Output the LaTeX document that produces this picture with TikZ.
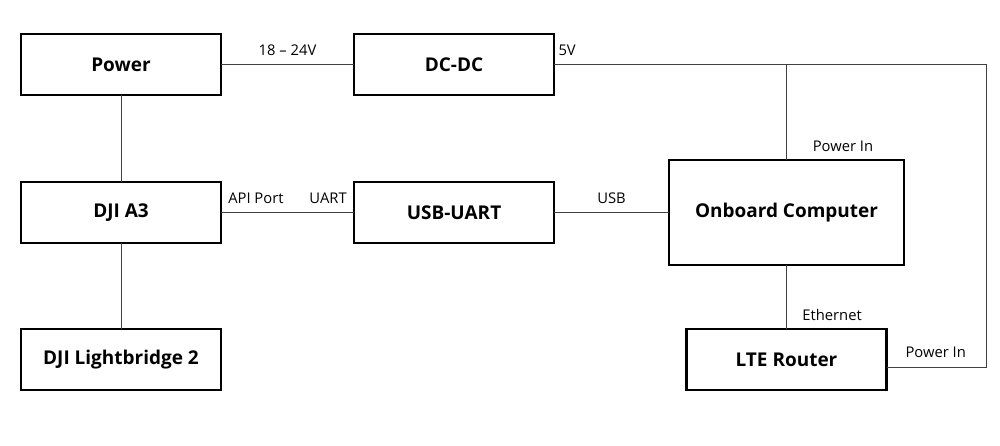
\documentclass[tikz,border=0pt]{standalone}
\usepackage{fontspec}
\setmainfont{Open Sans}
\usetikzlibrary{positioning}

\begin{document}
\begin{tikzpicture}[
  node distance=2.15cm and 3.325cm,
  font=\small,
  box/.style={draw, line width=1.5pt, outer sep=0pt, minimum width=5cm,
              minimum height=1.525cm, inner sep=2pt,
              font=\fontsize{13.5}{16}\selectfont\bfseries},
  bigbox/.style={box, minimum width=5.875cm, minimum height=2.625cm},
  wire/.style={line width=0.7pt, draw=black!75},
  lbl/.style={font=\fontsize{10.5}{12}\selectfont, inner sep=2pt},
]
\useasboundingbox (0,0) rectangle (25,-11.15);

\node[box] (power) at (3.025,-1.6125) {Power};
\node[box, right=of power] (dcdc) {DC-DC};
\node[box, below=2.175cm of power] (dji) {DJI A3};
\node[box, right=of dji] (usbuart) {USB-UART};
\node[box, below=of dji] (lightbridge) {DJI Lightbridge 2};
\node[bigbox, right=2.875cm of usbuart] (onboard) {Onboard Computer};
\node[box, below=1.6cm of onboard] (lte) {LTE Router};

% power path
\draw[wire] (power) -- node[lbl, above=4pt]{18 -- 24V} (dcdc);
\draw[wire] (dcdc.east) -- ++(10.8cm,0) coordinate (rail) |- ([yshift=-0.19cm]lte.east);
\draw[wire] (onboard.north) -- (onboard.north |- dcdc.east);
\node[lbl, above right=4pt and 1pt] at (dcdc.east) {5V};
\node[lbl, anchor=south west] at ([xshift=5.8mm,yshift=1.2mm]onboard.north) {Power In};
\node[lbl, anchor=south west] at ([xshift=4mm,yshift=-0.4mm]lte.east) {Power In};

% data path
\draw[wire] (power) -- (dji);
\draw[wire] (dji) -- (lightbridge);
\draw[wire] (dji) -- (usbuart);
\node[lbl, above right=4pt and 3pt] at (dji.east) {API Port};
\node[lbl, above left=4pt and 3pt] at (usbuart.west) {UART};
\draw[wire] (usbuart) -- node[lbl, above=4pt]{USB} (onboard);
\draw[wire] (onboard.south) -- (onboard.south |- lte.north);
\node[lbl, anchor=south west] at ([xshift=3.2mm,yshift=1.2mm]onboard.south |- lte.north) {Ethernet};
\end{tikzpicture}
\end{document}
